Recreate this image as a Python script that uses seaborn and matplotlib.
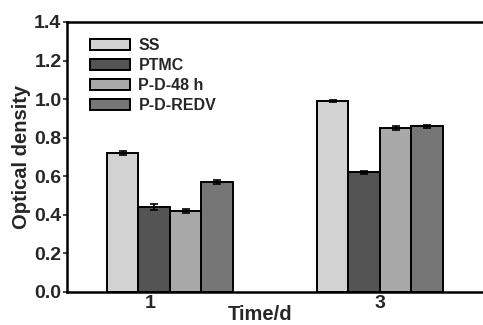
import pandas as pd
import numpy as np
import seaborn as sns
import matplotlib.pyplot as plt

# Values
days = ['1', '3']
groups = ['SS', 'PTMC', 'P-D-48 h', 'P-D-REDV']
ss = [0.72, 0.99]
ptmc = [0.44, 0.62]
pd48 = [0.42, 0.85]
redv = [0.57, 0.86]
ss_err = [0.010, 0.005]
ptmc_err = [0.015, 0.008]
pd48_err = [0.008, 0.010]
redv_err = [0.012, 0.008]

colors = ['#d2d2d2', '#545454', '#a8a8a8', '#767676']

rows = []
for g, vals, errs in zip(groups, [ss, ptmc, pd48, redv], [ss_err, ptmc_err, pd48_err, redv_err]):
    for d, v, e in zip(days, vals, errs):
        rows.append({'Time': d, 'Group': g, 'OD': v, 'err': e})
df = pd.DataFrame(rows)

sns.set_style('ticks')
plt.rcParams['font.family'] = ['Liberation Sans', 'DejaVu Sans']
plt.rcParams['font.weight'] = 'bold'

fig = plt.figure(figsize=(4.83, 3.25), dpi=100)
ax = fig.add_axes([67 / 483, 33 / 325, 420 / 483, 270 / 325])

sns.barplot(data=df, x='Time', y='OD', hue='Group', order=days, hue_order=groups,
            palette=colors, width=0.6, edgecolor='black', linewidth=1.4,
            errorbar=None, ax=ax)

# error bars on top of each bar
for cont, g in zip(ax.containers, groups):
    sub = df[df['Group'] == g].set_index('Time').loc[days]
    xs = [p.get_x() + p.get_width() / 2 for p in cont.patches]
    ax.errorbar(xs, sub['OD'], yerr=sub['err'], fmt='none', ecolor='black',
                elinewidth=1.2, capsize=3, capthick=1.2, zorder=5)

ax.set_xlim(-0.49, 1.51)
ax.set_ylim(0, 1.4)
ax.set_yticks(np.arange(0, 1.41, 0.2))
ax.set_yticklabels([f'{v:.1f}' for v in np.arange(0, 1.41, 0.2)], fontsize=14, fontweight='bold')
ax.set_xticks([-0.095, 1])
ax.set_xticklabels(days, fontsize=14, fontweight='bold')
ax.tick_params(axis='x', length=0, pad=2)
ax.tick_params(axis='y', length=3, width=1.2, pad=1, direction='out')

ax.set_ylabel('Optical density', fontsize=14.5, fontweight='bold', labelpad=2)
ax.set_xlabel('Time/d', fontsize=14.5, fontweight='bold', va='center')
ax.xaxis.set_label_coords(0.46, -0.085)

for s in ['left', 'bottom', 'top', 'right']:
    ax.spines[s].set_linewidth(1.8)
    ax.spines[s].set_color('black')

leg = ax.legend(loc='upper left', bbox_to_anchor=(0.02, 0.995), frameon=False,
                handlelength=2.5, handleheight=0.7, labelspacing=0.32, handletextpad=0.55,
                prop={'weight': 'bold', 'size': 11.5})
for h in leg.legend_handles:
    h.set_edgecolor('black')
    h.set_linewidth(1.4)

fig.savefig('out.png', dpi=100)
